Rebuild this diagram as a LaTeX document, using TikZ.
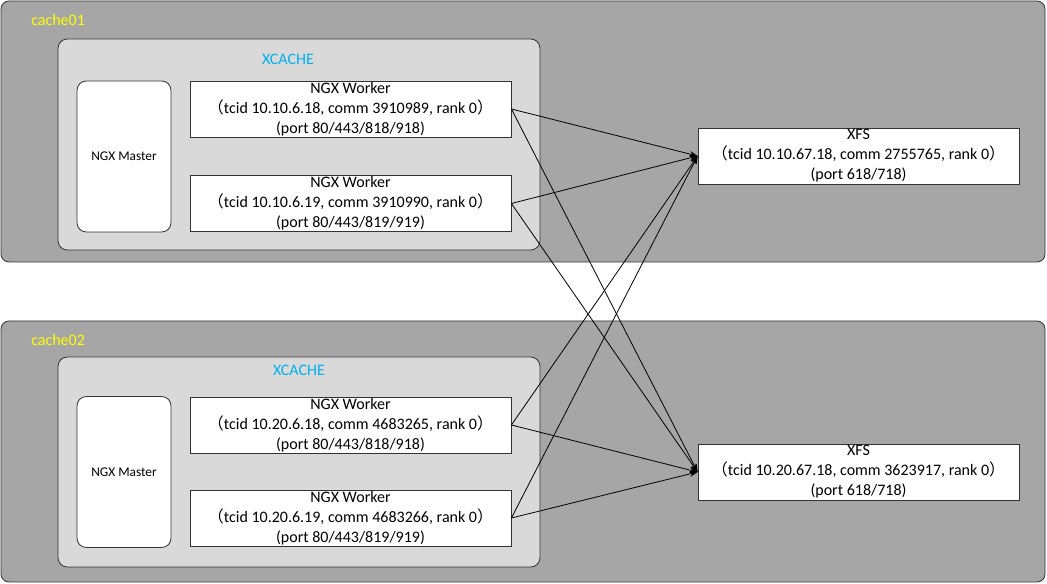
\documentclass[tikz,border=0pt]{standalone}
\usepackage{fontspec}
\setmainfont{Carlito}
\newfontfamily\cjk{Noto Sans CJK SC}
\usetikzlibrary{arrows.meta}
\definecolor{outerg}{HTML}{A6A6A6}
\definecolor{innerg}{HTML}{D9D9D9}
\definecolor{xblue}{HTML}{00B0F0}
\definecolor{yel}{HTML}{FFFF00}
\newcommand{\lpar}{{\cjk （}}
\newcommand{\rpar}{{\cjk ）}}
\begin{document}
\begin{tikzpicture}[x=0.75pt,y=-0.75pt,
  host/.style={draw=black!80, fill=outerg, rounded corners=6pt, line width=0.6pt, inner sep=0pt, minimum width=783pt, minimum height=195.75pt},
  xcache/.style={draw=black!80, fill=innerg, rounded corners=7pt, line width=0.6pt, inner sep=0pt, minimum width=361.5pt},
  master/.style={draw=black!80, fill=white, rounded corners=7pt, line width=0.6pt, inner sep=0pt, minimum width=70.5pt, minimum height=113.25pt, font=\fontsize{10}{12}\selectfont},
  proc/.style={draw=black!80, fill=white, line width=0.6pt, inner sep=0pt, minimum width=240.75pt, minimum height=42pt, align=center, font=\fontsize{12}{15}\selectfont},
  hostlabel/.style={anchor=west, text=yel, inner sep=0pt, font=\fontsize{12}{14}\selectfont},
  xlabel/.style={text=xblue, inner sep=0pt, font=\fontsize{12}{14}\selectfont},
  link/.style={draw=black, line width=0.6pt, -{Stealth[length=6pt,width=4.5pt]}}
]
\useasboundingbox (0,0) rectangle (1047,584);

% hosts
\node[host] (cache01) at (523,131.5) {};
\node[host] (cache02) at (523,451.5) {};
\node[hostlabel] (lab01) at (31,20) {cache01};
\node[hostlabel] (lab02) at (31,340) {cache02};

% xcache containers
\node[xcache, minimum height=158.25pt] (xc1) at (299,144.5) {};
\node[xcache, minimum height=157.5pt] (xc2) at (299,462) {};
\node[xlabel] (xl1) at (288,59) {XCACHE};
\node[xlabel] (xl2) at (299,370) {XCACHE};

% masters
\node[master] (m1) at (124,156.5) {NGX Master};
\node[master] (m2) at (124,472) {NGX Master};

% workers
\node[proc] (w1) at (350.5,109) {NGX Worker\\\lpar tcid 10.10.6.18, comm 3910989, rank 0\rpar\\(port 80/443/818/918)};
\node[proc] (w2) at (350.5,203.5) {NGX Worker\\\lpar tcid 10.10.6.19, comm 3910990, rank 0\rpar\\(port 80/443/819/919)};
\node[proc] (w3) at (350.5,425) {NGX Worker\\\lpar tcid 10.20.6.18, comm 4683265, rank 0\rpar\\(port 80/443/818/918)};
\node[proc] (w4) at (350.5,518) {NGX Worker\\\lpar tcid 10.20.6.19, comm 4683266, rank 0\rpar\\(port 80/443/819/919)};

% xfs
\node[proc] (x1) at (858.5,156) {XFS\\\lpar tcid 10.10.67.18, comm 2755765, rank 0\rpar\\(port 618/718)};
\node[proc] (x2) at (858.5,472) {XFS\\\lpar tcid 10.20.67.18, comm 3623917, rank 0\rpar\\(port 618/718)};

% links
\foreach \w in {w1,w2,w3,w4}{
  \draw[link] (\w.east) -- (x1.west);
  \draw[link] (\w.east) -- (x2.west);
}
\end{tikzpicture}
\end{document}
